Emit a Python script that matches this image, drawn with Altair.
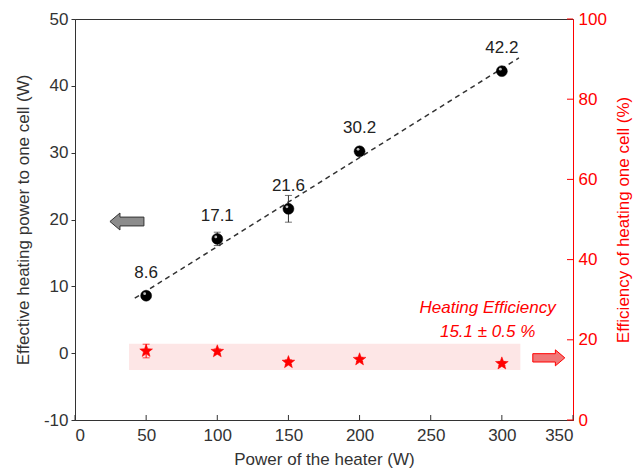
import altair as alt
import pandas as pd

# ---- data ----
heater = [50, 100, 150, 200, 300]
power = [8.6, 17.1, 21.6, 30.2, 42.2]
power_err = [0.4, 1.0, 2.0, 0.6, 0.5]
power_labels = ["8.6", "17.1", "21.6", "30.2", "42.2"]
efficiency = [17.2, 17.1, 14.4, 15.1, 14.07]
eff_err = [1.7, 0.6, 0.6, 0.5, 0.5]

band_x = [38, 313]
band_y = [-2.5, 1.4]
fit_extent = [42, 312]

note_text = ["Heating Efficiency", "15.1 \u00b1 0.5 %"]
note_x = [290, 290]
note_y = [6.8, 3.2]

arrow_x = [36.5, 333]
arrow_y = [19.7, -0.7]
arrow_dir = ["left", "right"]

x_ticks = [0, 50, 100, 150, 200, 250, 300, 350]
yl_ticks = [-10, 0, 10, 20, 30, 40, 50]
yr_ticks = [0, 20, 40, 60, 80, 100]

FONT = "Liberation Sans"
DARK = "#333333"
RED = "#ff0000"

df = pd.DataFrame({
    "x": heater, "y": power,
    "lo": [p - e for p, e in zip(power, power_err)],
    "hi": [p + e for p, e in zip(power, power_err)],
    "label": power_labels,
})
dfe = pd.DataFrame({
    "x": heater, "eff": efficiency,
    "elo": [v - e for v, e in zip(efficiency, eff_err)],
    "ehi": [v + e for v, e in zip(efficiency, eff_err)],
})
band_df = pd.DataFrame({"x": [band_x[0]], "x2": [band_x[1]], "y": [band_y[0]], "y2": [band_y[1]]})
note_df = pd.DataFrame({"x": note_x, "y": note_y, "t": note_text})
arrow_df = pd.DataFrame({"x": arrow_x, "y": arrow_y, "d": arrow_dir})
xt_df = pd.DataFrame({"x": x_ticks})
yrt_df = pd.DataFrame({"eff": yr_ticks})

xscale = alt.Scale(domain=[0, 350], nice=False, zero=False)
ylscale = alt.Scale(domain=[-10, 50], nice=False, zero=False)
yrscale = alt.Scale(domain=[0, 100], nice=False, zero=False)

x_axis = alt.Axis(values=x_ticks, title="Power of the heater (W)", orient="bottom", ticks=False,
                  labelPadding=7, titlePadding=8, domainColor=DARK, labelColor=DARK,
                  titleColor=DARK, labelFontSize=17, titleFontSize=17, labelFont=FONT,
                  titleFont=FONT, titleFontWeight="normal", grid=False)
yl_axis = alt.Axis(values=yl_ticks, title="Effective heating power to one cell (W)",
                   orient="left", tickSize=4, tickColor=DARK, domainColor=DARK,
                   labelColor=DARK, titleColor=DARK, labelPadding=3, titlePadding=11,
                   labelFontSize=17, titleFontSize=17, labelFont=FONT, titleFont=FONT,
                   titleFontWeight="normal", grid=False,
                   labelExpr="datum.value < 0 ? '-' + abs(datum.value) : '' + datum.value")
yr_axis = alt.Axis(values=yr_ticks, title="Efficiency of heating one cell (%)", orient="right",
                   ticks=False, labelPadding=5, titlePadding=9, domainColor=RED,
                   labelColor=RED, titleColor=RED, labelFontSize=17, titleFontSize=17,
                   labelFont=FONT, titleFont=FONT, titleFontWeight="normal", grid=False,
                   titleAngle=270, titleBaseline="top")


def X():
    return alt.X("x:Q", scale=xscale, axis=x_axis)


def YL(f, show=False):
    return alt.Y(f, scale=ylscale, axis=yl_axis if show else None)


def YR(f, show=False):
    return alt.Y(f, scale=yrscale, axis=yr_axis if show else None)


STAR = ("M 0 -1 L 0.247 -0.34 L 0.951 -0.309 L 0.399 0.13 L 0.588 0.809 L 0 0.42 "
        "L -0.588 0.809 L -0.399 0.13 L -0.951 -0.309 L -0.247 -0.34 Z")
LEFT_ARROW = "M -1 0 L -0.41 -0.5 L -0.41 -0.26 L 1 -0.26 L 1 0.26 L -0.41 0.26 L -0.41 0.5 Z"
RIGHT_ARROW = "M 1 0 L 0.41 -0.5 L 0.41 -0.26 L -1 -0.26 L -1 0.26 L 0.41 0.26 L 0.41 0.5 Z"

band = alt.Chart(band_df).mark_rect(color="#fde6e6").encode(
    x=X(), x2="x2:Q", y=YL("y:Q", True), y2="y2:Q")

fit = alt.Chart(df).transform_regression("x", "y", extent=fit_extent).mark_line(
    color=DARK, strokeDash=[5, 4], strokeWidth=1.5).encode(x=X(), y=YL("y:Q"))

err_rule = alt.Chart(df).mark_rule(color=DARK, strokeWidth=1).encode(
    x=X(), y=YL("lo:Q"), y2="hi:Q")
err_lo = alt.Chart(df).mark_tick(color=DARK, orient="horizontal", size=7, thickness=1).encode(
    x=X(), y=YL("lo:Q"))
err_hi = alt.Chart(df).mark_tick(color=DARK, orient="horizontal", size=7, thickness=1).encode(
    x=X(), y=YL("hi:Q"))

pts = alt.Chart(df).mark_point(shape="circle", size=120, filled=True, fill="#000000",
                               stroke="#000000", strokeWidth=0.5, opacity=1).encode(
    x=X(), y=YL("y:Q"))
hl = alt.Chart(df).mark_point(shape="circle", size=8, filled=True, fill="#d0d0d0",
                              opacity=0.9, xOffset=-1.5, yOffset=-2).encode(
    x=X(), y=YL("y:Q"))

labels = alt.Chart(df).mark_text(font=FONT, fontSize=17, color="#222222", dy=-23,
                                 baseline="middle").encode(x=X(), y=YL("y:Q"), text="label:N")

notes = alt.Chart(note_df).mark_text(font=FONT, fontSize=17, fontStyle="italic",
                                     color=RED, baseline="middle").encode(
    x=X(), y=YL("y:Q"), text="t:N")

arrow_l = alt.Chart(arrow_df).transform_filter(alt.datum.d == "left").mark_point(
    shape=LEFT_ARROW, size=1156, filled=True, fill="#8c8c8c", stroke=DARK,
    strokeWidth=1, opacity=1).encode(x=X(), y=YL("y:Q"))
arrow_r = alt.Chart(arrow_df).transform_filter(alt.datum.d == "right").mark_point(
    shape=RIGHT_ARROW, size=1024, filled=True, fill="#f07878", stroke=RED,
    strokeWidth=1, opacity=1).encode(x=X(), y=YL("y:Q"))

# inward ticks on the bottom axis
xticks = alt.Chart(xt_df).mark_rule(color=DARK, strokeWidth=1).encode(
    x=X(), y=alt.value(401), y2=alt.value(396))

s_rule = alt.Chart(dfe).mark_rule(color=RED, strokeWidth=1).encode(
    x=X(), y=YR("elo:Q"), y2="ehi:Q")
s_lo = alt.Chart(dfe).mark_tick(color=RED, orient="horizontal", size=7, thickness=1).encode(
    x=X(), y=YR("elo:Q"))
s_hi = alt.Chart(dfe).mark_tick(color=RED, orient="horizontal", size=7, thickness=1).encode(
    x=X(), y=YR("ehi:Q"))
stars = alt.Chart(dfe).mark_point(shape=STAR, size=180, filled=True, fill=RED,
                                  stroke=RED, strokeWidth=0.5, opacity=1).encode(
    x=X(), y=YR("eff:Q", True))
yrticks = alt.Chart(yrt_df).mark_rule(color=RED, strokeWidth=1).encode(
    y=YR("eff:Q"), x=alt.value(498), x2=alt.value(492))

chart = alt.layer(band, stars, fit, err_rule, err_lo, err_hi, pts, hl, labels, notes,
                  arrow_l, arrow_r, xticks, s_rule, s_lo, s_hi, yrticks).resolve_scale(
    y="independent").properties(
    width=498, height=401,
    autosize=alt.AutoSizeParams(type="none"),
    padding={"left": 75, "top": 19, "right": 61, "bottom": 54},
    background="white",
).configure_view(stroke=DARK, strokeWidth=1)

chart.save("out.html", embed_options={"renderer": "svg", "actions": False})
